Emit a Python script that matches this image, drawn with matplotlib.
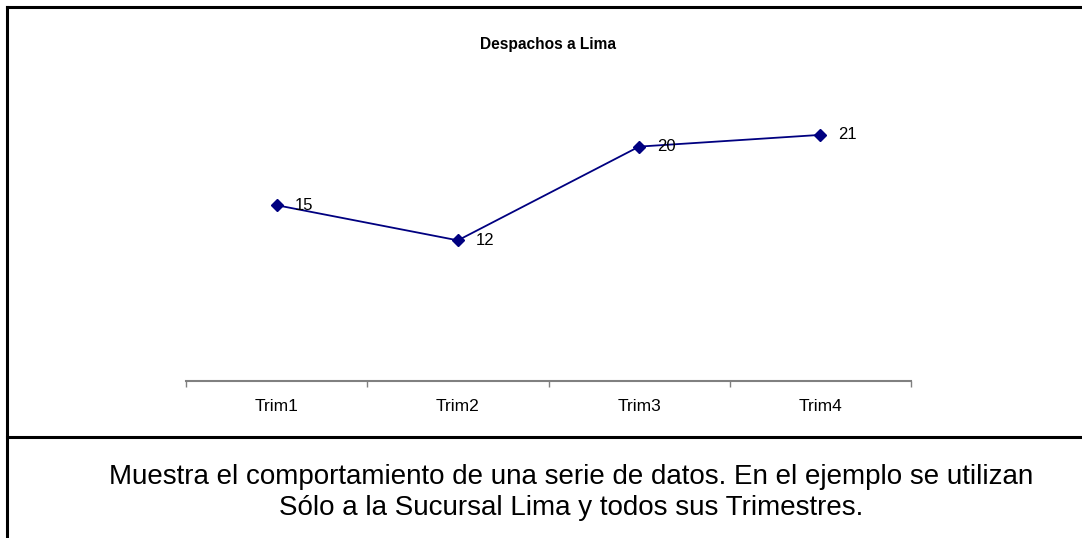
import matplotlib
matplotlib.use("Agg")
import matplotlib.pyplot as plt
from matplotlib.lines import Line2D

plt.rcParams["font.family"] = ["Liberation Sans", "DejaVu Sans"]

# ─── data ────────────────────────────────────────────────
categories = ["Trim1", "Trim2", "Trim3", "Trim4"]
despachos  = [15, 12, 20, 21]
title      = "Despachos a Lima"
caption    = ["Muestra el comportamiento de una serie de datos. En el ejemplo se utilizan",
              "Sólo a la Sucursal Lima y todos sus Trimestres."]
# ─────────────────────────────────────────────────────────

W, H = 1082, 538
fig = plt.figure(figsize=(W / 100, H / 100), dpi=100)
fig.patch.set_facecolor("white")

ax = fig.add_axes([186 / W, 1 - 381 / H, (911 - 186) / W, (381 - 88) / H])
x = list(range(len(categories)))
ax.plot(x, despachos, color="#000080", linewidth=1.3, marker="D",
        markersize=6.5, markerfacecolor="#000080", markeredgecolor="#000080",
        clip_on=False, zorder=3)
for xi, v in zip(x, despachos):
    ax.annotate(str(v), (xi, v), xytext=(13, 0), textcoords="offset points",
                ha="left", va="center", fontsize=12, color="black")

ax.set_xlim(-0.5, len(categories) - 0.5)
ax.set_ylim(0, 25)
ax.set_xticks(x)
ax.set_xticklabels(categories, fontsize=12.5)
ax.set_xticks([i - 0.5 for i in range(len(categories) + 1)], minor=True)
ax.tick_params(axis="x", which="major", length=0, pad=13)
ax.tick_params(axis="x", which="minor", length=4, width=1, color="#808080",
               direction="out")
ax.set_yticks([])
for s in ("top", "left", "right"):
    ax.spines[s].set_visible(False)
ax.spines["bottom"].set_color("#808080")
ax.spines["bottom"].set_linewidth(1.5)

fig.text(548 / W, 1 - 45 / H, title, ha="center", va="center",
         fontsize=11.2, fontweight="bold")

for i, line in enumerate(caption):
    fig.text(571 / W, 1 - (477 + 31 * i) / H, line, ha="center", va="center",
             fontsize=20)

# frame: top line, left line, separator
fig.add_artist(Line2D([6.5 / W, 1], [1 - 6.5 / H, 1 - 6.5 / H], color="black", lw=2.2,
                      transform=fig.transFigure))
fig.add_artist(Line2D([6.5 / W, 6.5 / W], [0, 1 - 6.5 / H], color="black", lw=2.2,
                      transform=fig.transFigure))
fig.add_artist(Line2D([6.5 / W, 1], [1 - 437 / H, 1 - 437 / H], color="black", lw=2.2,
                      transform=fig.transFigure))

fig.savefig("out.png", dpi=100, facecolor="white")
